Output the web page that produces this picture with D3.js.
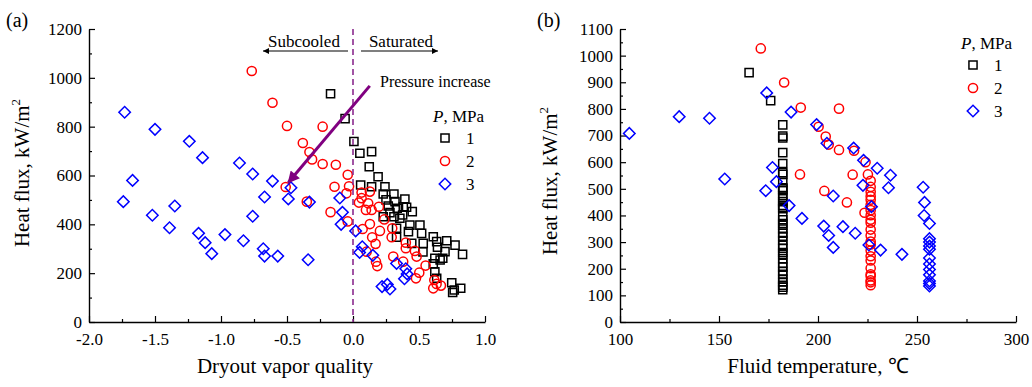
<!DOCTYPE html>
<html>
<head>
<meta charset="utf-8">
<script src="https://cdn.jsdelivr.net/npm/d3@7/dist/d3.min.js"></script>
<style>
html,body{margin:0;padding:0;background:#fff;}
svg{display:block;font-family:"Liberation Serif","Times New Roman",serif;}
svg text{font-family:"Liberation Serif","Times New Roman",serif !important;}
</style>
</head>
<body>
<svg id="chart" width="1032" height="387"></svg>
<script>
// ---------------- DATA ----------------
// Panel (a): [dryout vapor quality, heat flux kW/m2]
const qualityP1 = [[-0.17,935],[-0.06,833],[0.007,739],[0.052,691],[0.141,698],[0.123,636],[0.19,595],[0.058,561],[0.141,554],[0.242,554],[0.229,524],[0.31,524],[0.393,504],[0.25,500],[0.318,493],[0.381,472],[0.267,475],[0.335,466],[0.406,470],[0.449,452],[0.28,448],[0.376,438],[0.229,431],[0.31,431],[0.355,425],[0.431,397],[0.507,397],[0.33,384],[0.42,370],[0.52,363],[0.608,349],[0.33,347],[0.445,322],[0.532,322],[0.634,329],[0.71,333],[0.773,315],[0.83,277],[0.697,288],[0.62,261],[0.66,254],[0.608,238],[0.62,206],[0.634,179],[0.748,161],[0.767,131],[0.816,138],[0.755,121],[0.53,287],[0.68,261],[0.64,306]];
const qualityP2 = [[-0.767,1028],[-0.61,898],[-0.50,803],[-0.23,800],[-0.38,733],[-0.33,696],[-0.31,666],[-0.23,647],[-0.13,644],[-0.04,603],[-0.03,556],[-0.05,527],[-0.14,554],[-0.51,553],[-0.35,493],[-0.17,450],[-0.04,412],[0.065,530],[0.128,534],[0.065,507],[0.045,489],[0.115,486],[0.098,459],[0.141,459],[0.196,472],[0.237,420],[0.128,401],[0.204,373],[0.073,381],[0.297,384],[0.293,347],[0.145,347],[0.171,320],[0.40,325],[0.40,302],[0.469,291],[0.482,268],[0.103,288],[0.305,268],[0.38,247],[0.174,247],[0.184,229],[0.55,231],[0.502,202],[0.477,179],[0.616,172],[0.608,138],[0.633,156],[0.666,149]];
const qualityP3 = [[-1.73,859],[-1.50,789],[-1.24,740],[-1.14,673],[-0.86,651],[-0.76,606],[-0.61,577],[-1.67,580],[-1.74,493],[-1.35,475],[-1.52,437],[-1.39,386],[-1.17,363],[-1.12,325],[-1.07,280],[-0.97,358],[-0.83,333],[-0.68,300],[-0.67,270],[-0.57,270],[-0.34,255],[-0.67,512],[-0.76,433],[-0.49,504],[-0.47,550],[-0.33,491],[-0.10,508],[-0.08,449],[-0.09,400],[0.02,373],[0.07,308],[0.05,285],[0.15,273],[0.33,240],[0.40,218],[0.41,197],[0.39,177],[0.22,145],[0.26,154],[0.28,135]];

// Panel (b): [fluid temperature C, heat flux kW/m2]
const tempP1 = [[165.2,936],[176.1,831],[182.2,740],[182.2,691],[182.2,698],[182.2,636],[182.2,595],[182.2,561],[182.2,554],[182.2,524],[182.2,504],[182.2,500],[182.2,493],[182.2,475],[182.2,466],[182.2,452],[182.2,438],[182.2,431],[182.2,425],[182.2,397],[182.2,384],[182.2,370],[182.2,363],[182.2,349],[182.2,333],[182.2,322],[182.2,306],[182.2,288],[182.2,277],[182.2,261],[182.2,254],[182.2,238],[182.2,220],[182.2,206],[182.2,190],[182.2,179],[182.2,161],[182.2,150],[182.2,138],[182.2,131],[182.2,121]];
const tempP2 = [[171.1,1027],[182.9,899],[191.3,805],[210.6,801],[200.3,733],[203.9,696],[205.4,666],[210.6,646],[218.2,643],[224.0,600],[225.2,554],[217.5,553],[190.9,554],[203.2,492],[214.6,449],[223.5,410],[226.6,530],[226.6,507],[226.6,489],[226.6,472],[226.6,459],[226.6,440],[226.6,420],[226.6,401],[226.6,384],[226.6,373],[226.6,347],[226.6,325],[226.6,302],[226.6,291],[226.6,268],[226.6,247],[226.6,231],[226.6,202],[226.6,179],[226.6,172],[226.6,156],[226.6,149],[226.6,138]];
const tempP3 = [[104.7,708],[129.9,771],[145.2,765],[152.9,537],[174.1,860],[186.4,788],[199.3,741],[204.5,671],[218.0,653],[223.0,607],[229.9,577],[236.6,551],[235.6,504],[222.7,513],[177.0,580],[179.0,527],[173.6,493],[207.7,473],[185.4,437],[191.9,389],[202.9,360],[205.4,325],[207.7,280],[212.6,358],[218.8,333],[227.0,433],[225.7,289],[231.6,270],[242.4,254],[253.1,506],[253.8,449],[253.6,400],[256.3,370],[256.3,313],[256.3,300],[256.3,285],[256.3,273],[256.3,240],[256.3,218],[256.3,197],[256.3,177],[256.3,154],[256.3,145],[256.3,135]];

const pressures = ["1","2","3"];
const xTicksA = [-2.0,-1.5,-1.0,-0.5,0.0,0.5,1.0];
const yTicksA = [0,200,400,600,800,1000,1200];
const xTicksB = [100,150,200,250,300];
const yTicksB = [0,100,200,300,400,500,600,700,800,900,1000,1100];
// annotation arrow (a): from / to in data units
const arrowFrom = [0.127,967];
const arrowTo = [-0.49,571];

// ---------------- DRAW ----------------
const FONT = '"Liberation Serif","Times New Roman",serif';
const svg = d3.select("#chart");
const colors = ["#000000","#ff0000","#0000ff"];
const symbols = [d3.symbolSquare, d3.symbolCircle, d3.symbolDiamond];
const symSizes = [66, 66, 66];

const defs = svg.append("defs");
defs.append("marker").attr("id","ahBlack").attr("viewBox","0 0 10 10").attr("refX",10).attr("refY",5)
  .attr("markerWidth",8).attr("markerHeight",6).attr("markerUnits","userSpaceOnUse").attr("orient","auto")
  .append("path").attr("d","M0,0 L10,5 L0,10 Z").attr("fill","#000");
defs.append("marker").attr("id","ahPurple").attr("viewBox","0 0 10 10").attr("refX",9).attr("refY",5)
  .attr("markerWidth",14).attr("markerHeight",12).attr("markerUnits","userSpaceOnUse").attr("orient","auto")
  .append("path").attr("d","M0,0 L10,5 L0,10 Z").attr("fill","#800080");

function symbolPath(i){
  if(i===2){
    return d3.symbol().type(d3.symbolSquare).size(symSizes[i])();
  }
  return d3.symbol().type(symbols[i]).size(symSizes[i])();
}

function drawPanel(opt){
  const g = svg.append("g");
  const x = d3.scaleLinear().domain(opt.xDomain).range(opt.xRange);
  const y = d3.scaleLinear().domain(opt.yDomain).range([322,29]);

  g.append("g").attr("transform","translate(0,322)")
    .call(d3.axisBottom(x).tickValues(opt.xMinor).tickSize(-3).tickSizeOuter(0).tickFormat(""))
    .call(s=>s.select(".domain").remove());
  g.append("g").attr("transform",`translate(${opt.xRange[0]},0)`)
    .call(d3.axisLeft(y).tickValues(opt.yMinor).tickSize(-3).tickSizeOuter(0).tickFormat(""))
    .call(s=>s.select(".domain").remove());

  const xa = g.append("g").attr("transform","translate(0,322)")
    .call(d3.axisBottom(x).tickValues(opt.xTicks).tickSize(-6).tickSizeOuter(0).tickPadding(11).tickFormat(opt.xFmt));
  const ya = g.append("g").attr("transform",`translate(${opt.xRange[0]},0)`)
    .call(d3.axisLeft(y).tickValues(opt.yTicks).tickSize(-6).tickSizeOuter(0).tickPadding(7).tickFormat(d=>String(d)));
  [xa,ya].forEach(a=>{
    a.attr("font-family",FONT).attr("font-size",17);
    a.selectAll("text").style("font-family",FONT).attr("font-size",17).attr("fill","#000");
    a.select(".domain").attr("stroke","#000").attr("stroke-width",1.4);
  });
  g.selectAll("g.tick line").attr("stroke","#000").attr("stroke-width",1.2);

  opt.series.forEach((data,i)=>{
    g.append("g").selectAll("path").data(data).join("path")
      .attr("d",symbolPath(i))
      .attr("transform",d=>`translate(${x(d[0])},${y(d[1])})` + (i===2?" rotate(45)":""))
      .attr("fill","none").attr("stroke",colors[i]).attr("stroke-width",1.5);
  });

  const lg = g.append("g");
  const lt = lg.append("text").attr("x",opt.legX).attr("y",opt.legY).attr("font-size",17).attr("fill","#000");
  lt.append("tspan").attr("font-style","italic").text("P");
  lt.append("tspan").text(", MPa");
  pressures.forEach((p,i)=>{
    const cy = opt.legY + 16 + i*23;
    lg.append("path").attr("d",symbolPath(i))
      .attr("transform",`translate(${opt.legX+12},${cy})`+(i===2?" rotate(45)":""))
      .attr("fill","none").attr("stroke",colors[i]).attr("stroke-width",1.5);
    lg.append("text").attr("x",opt.legX+33).attr("y",cy+6).attr("font-size",17).attr("fill","#000").text(p);
  });

  g.append("text").attr("x",(opt.xRange[0]+opt.xRange[1])/2 - opt.xTitleShift).attr("y",373)
    .attr("text-anchor","middle").attr("font-size",21).attr("fill","#000").text(opt.xTitle);
  const yt = g.append("text").attr("transform",`translate(${opt.yTitleX},${opt.yTitleY}) rotate(-90)`)
    .attr("text-anchor","middle").attr("font-size",21).attr("fill","#000");
  yt.append("tspan").text("Heat flux, kW/m");
  yt.append("tspan").attr("dy",-9).attr("font-size",13).text("2");

  g.append("text").attr("x",opt.labX).attr("y",27).attr("font-size",20).attr("fill","#000").text(opt.label);
  return {g,x,y};
}

const A = drawPanel({
  xDomain:[-2,1], xRange:[89,485], yDomain:[0,1200],
  xTicks:xTicksA, yTicks:yTicksA,
  xMinor:d3.range(-1.75,1,0.5), yMinor:d3.range(100,1200,200),
  xFmt:d=>d.toFixed(1),
  series:[qualityP1,qualityP2,qualityP3],
  legX:433, legY:122, xTitle:"Dryout vapor quality", xTitleShift:2,
  yTitleX:29, yTitleY:173, label:"(a)", labX:6
});
const B = drawPanel({
  xDomain:[100,300], xRange:[620,1016], yDomain:[0,1100],
  xTicks:xTicksB, yTicks:yTicksB,
  xMinor:d3.range(125,300,50), yMinor:d3.range(50,1100,100),
  xFmt:d=>String(d),
  series:[tempP1,tempP2,tempP3],
  legX:961, legY:49, xTitle:"Fluid temperature, ℃", xTitleShift:0,
  yTitleX:557, yTitleY:181, label:"(b)", labX:537
});

const ax = A.x, ay = A.y;
A.g.append("line").attr("x1",ax(0)).attr("x2",ax(0)).attr("y1",ay(1200)).attr("y2",ay(0))
  .attr("stroke","#8b2a8e").attr("stroke-width",1.6).attr("stroke-dasharray","6,4");
A.g.append("line").attr("x1",ax(arrowFrom[0])).attr("y1",ay(arrowFrom[1]))
  .attr("x2",ax(arrowTo[0])).attr("y2",ay(arrowTo[1]))
  .attr("stroke","#800080").attr("stroke-width",3).attr("marker-end","url(#ahPurple)");
A.g.append("text").attr("x",380).attr("y",87).attr("font-size",16).attr("fill","#000").text("Pressure increase");
A.g.append("text").attr("x",304).attr("y",47).attr("text-anchor","middle").attr("font-size",17).attr("fill","#000").text("Subcooled");
A.g.append("text").attr("x",401).attr("y",47).attr("text-anchor","middle").attr("font-size",17).attr("fill","#000").text("Saturated");
A.g.append("line").attr("x1",348).attr("x2",263).attr("y1",51).attr("y2",51)
  .attr("stroke","#000").attr("stroke-width",1.1).attr("marker-end","url(#ahBlack)");
A.g.append("line").attr("x1",361).attr("x2",438).attr("y1",51).attr("y2",51)
  .attr("stroke","#000").attr("stroke-width",1.1).attr("marker-end","url(#ahBlack)");
</script>
</body>
</html>
